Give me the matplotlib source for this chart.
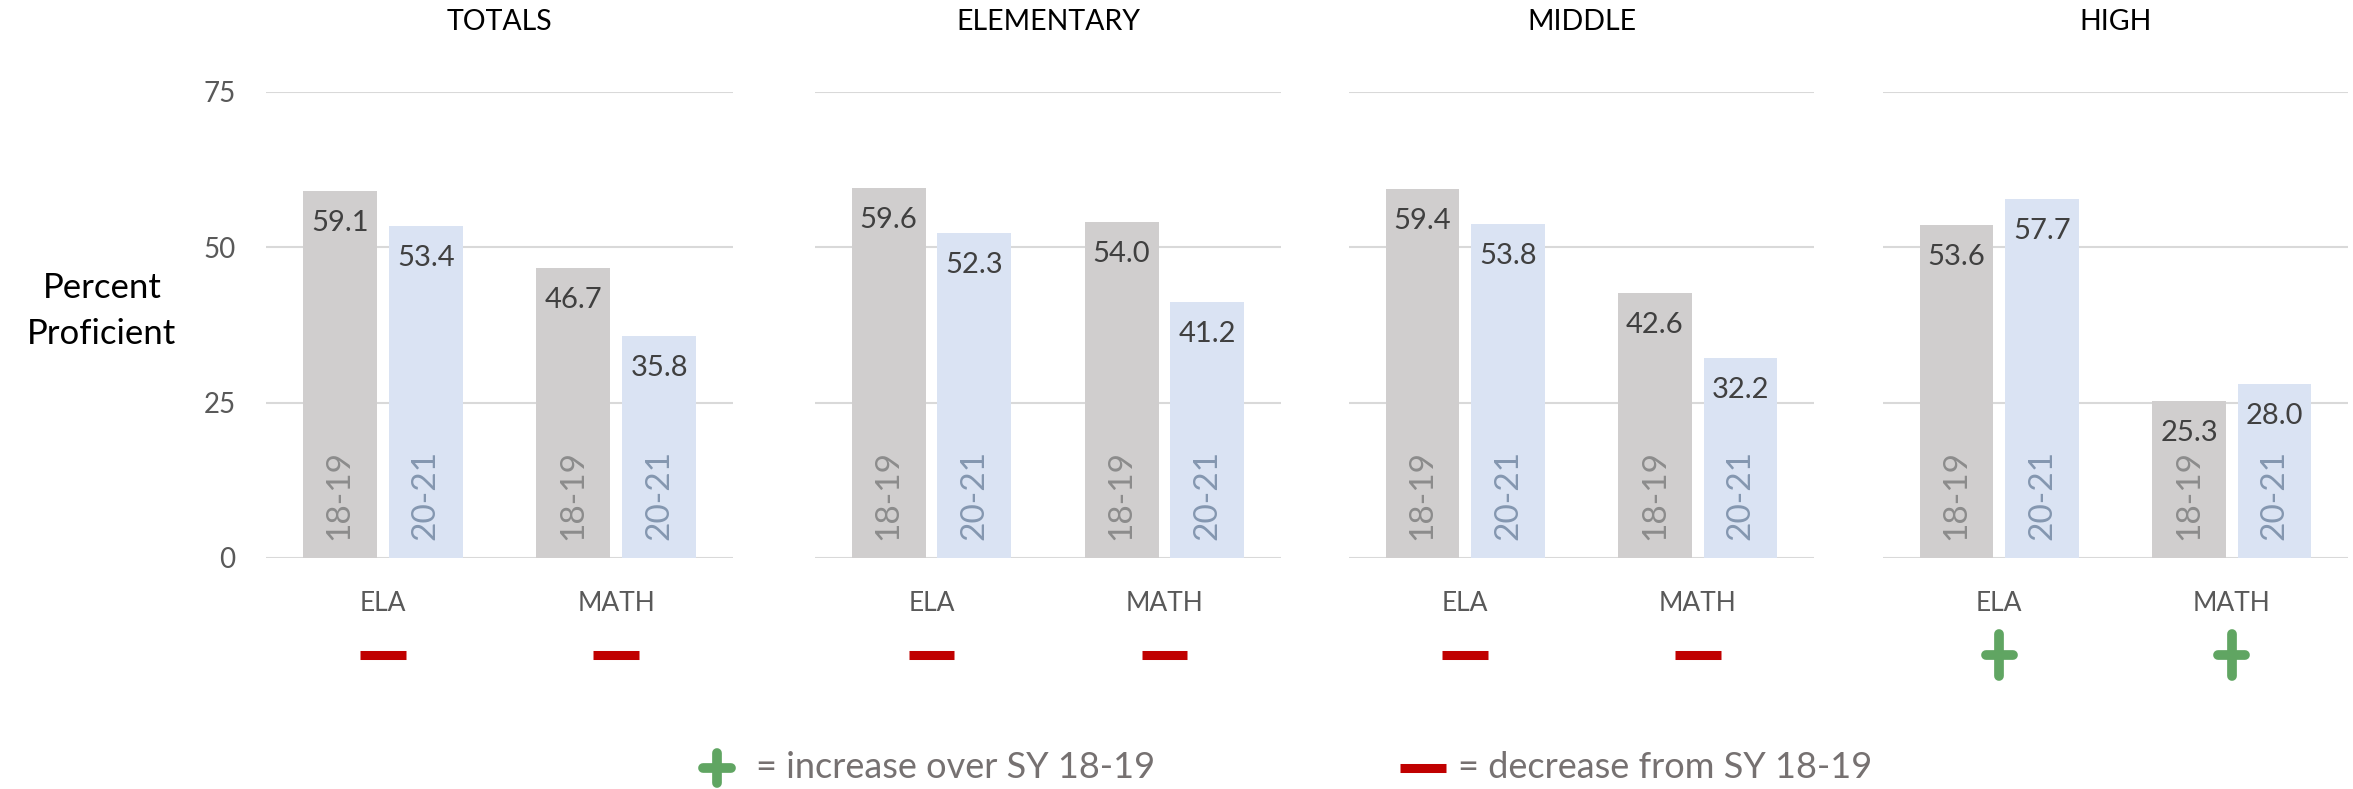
import matplotlib
matplotlib.use("Agg")
import matplotlib.pyplot as plt
from matplotlib.lines import Line2D
import numpy as np

plt.rcParams['font.family'] = ['Lato', 'DejaVu Sans']

# data
panels = ['TOTALS', 'ELEMENTARY', 'MIDDLE', 'HIGH']
subjects = ['ELA', 'MATH']
years = ['18-19', '20-21']
sy1819 = [[59.1, 46.7], [59.6, 54.0], [59.4, 42.6], [53.6, 25.3]]
sy2021 = [[53.4, 35.8], [52.3, 41.2], [53.8, 32.2], [57.7, 28.0]]
yticks = [0, 25, 50, 75]

bar_colors = ['#D0CECE', '#DAE3F3']
year_colors = ['#8C8C8C', '#8497B0']
RED = '#C00000'
GREEN = '#60A562'

W, H = 2353, 789
fig = plt.figure(figsize=(W / 100, H / 100), dpi=100)

# panel edges in pixels
edges = [(266, 733), (815, 1281), (1349, 1814), (1883, 2348)]
top_px, bot_px = 92, 558
ph = bot_px - top_px


def draw_plus(ax, x, y, color, transform):
    ax.add_line(Line2D([x - 0.058, x + 0.058], [y, y], color=color, lw=7,
                       solid_capstyle='round', transform=transform, clip_on=False))
    ax.add_line(Line2D([x, x], [y - 0.044, y + 0.044], color=color, lw=7,
                       solid_capstyle='round', transform=transform, clip_on=False))


def draw_minus(ax, x, y, color, transform):
    ax.add_line(Line2D([x - 0.098, x + 0.098], [y, y], color=color, lw=6.5,
                       solid_capstyle='butt', transform=transform, clip_on=False))


off = 0.184
bw = 0.317
for i, name in enumerate(panels):
    l, r = edges[i]
    ax = fig.add_axes([l / W, 1 - bot_px / H, (r - l) / W, ph / H])
    x = np.arange(len(subjects))
    vals = [sy1819[i], sy2021[i]]
    for k in range(2):
        xs = x + (k * 2 - 1) * off
        ax.bar(xs, vals[k], width=bw, color=bar_colors[k], zorder=2)
        for xx, v in zip(xs, vals[k]):
            ax.annotate(f'{v:.1f}', (xx, v), xytext=(0, -23), textcoords='offset points',
                        ha='center', va='center', fontsize=21, color='#404040', zorder=3)
            ax.annotate(years[k], (xx, 0), xytext=(0, 13), textcoords='offset points',
                        ha='center', va='bottom', rotation=90, fontsize=24,
                        color=year_colors[k], zorder=3)
    ax.set_xlim(-0.5, 1.5)
    ax.set_ylim(0, 75)
    ax.set_yticks(yticks)
    ax.grid(axis='y', color='#D9D9D9', lw=1.5, zorder=0)
    ax.set_axisbelow(True)
    for s in ax.spines.values():
        s.set_visible(False)
    ax.set_xticks(x)
    ax.set_xticklabels(subjects, fontsize=19, color='#595959')
    ax.tick_params(axis='both', length=0)
    ax.tick_params(axis='x', pad=24)
    if i == 0:
        ax.tick_params(axis='y', labelsize=20, labelcolor='#595959', pad=22)
    else:
        ax.set_yticklabels([])
    ax.text(0.5, (bot_px - 22) / ph, name, transform=ax.transAxes, ha='center',
            va='center', fontsize=20.5, color='black')

    # change markers under each subject
    trans = ax.get_xaxis_transform()
    ym = -(655 - bot_px) / ph
    for j in range(len(subjects)):
        if sy2021[i][j] > sy1819[i][j]:
            draw_plus(ax, x[j], ym, GREEN, trans)
        else:
            draw_minus(ax, x[j], ym, RED, trans)

fig.text(102 / W, 1 - 311 / H, 'Percent\nProficient', ha='center', va='center',
         fontsize=25, color='black', linespacing=1.5)

# legend
ft = fig.transFigure
ly = 1 - 768 / H
fig.add_artist(Line2D([(717 - 14) / W, (717 + 14) / W], [ly, ly], color=GREEN, lw=7,
                      solid_capstyle='round', transform=ft))
fig.add_artist(Line2D([717 / W, 717 / W], [ly - 15 / H, ly + 15 / H], color=GREEN, lw=7,
                      solid_capstyle='round', transform=ft))
fig.text(756 / W, ly, '= increase over SY 18-19', ha='left', va='center',
         fontsize=26, color='#767171')
fig.add_artist(Line2D([1400 / W, 1446 / W], [ly, ly], color=RED, lw=6.5,
                      solid_capstyle='butt', transform=ft))
fig.text(1458 / W, ly, '= decrease from SY 18-19', ha='left', va='center',
         fontsize=26, color='#767171')

fig.savefig('out.png', dpi=100)
